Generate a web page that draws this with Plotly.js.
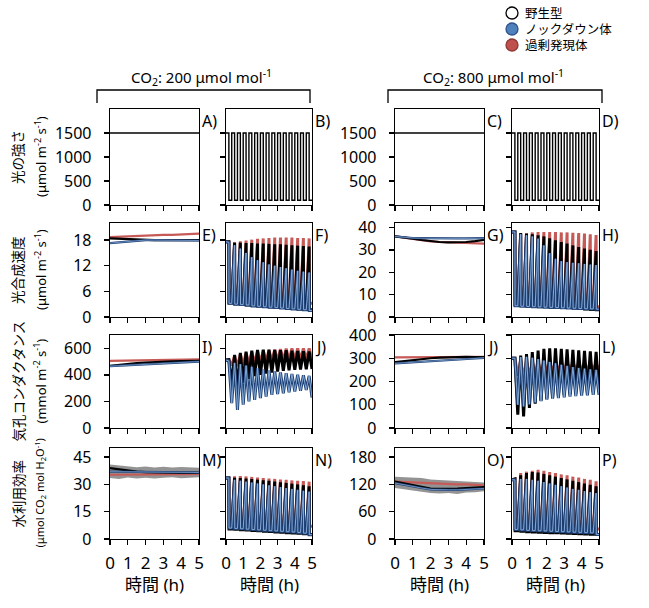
<!DOCTYPE html>
<html>
<head>
<meta charset="utf-8">
<script src="https://cdn.plot.ly/plotly-3.0.1.min.js"></script>
<style>html,body{margin:0;padding:0;background:#fff}</style>
</head>
<body>
<div id="chart" style="width:649px;height:608px"></div>
<script>
// time (h). constant light panels sampled every 30 min,
// fluctuating light: 15 cycles of 10 min high / 10 min low
const tConst = [0, 0.5, 1, 1.5, 2, 2.5, 3, 3.5, 4, 4.5, 5];
const cycleStart = [0, 0.333, 0.667, 1, 1.333, 1.667, 2, 2.333, 2.667, 3, 3.333, 3.667, 4, 4.333, 4.667];
const highLength = 0.1667;
const dropLength = 0.01;
const lightHigh = 1500;
const lightLow = 100;
const lightConst = [1500, 1500, 1500, 1500, 1500, 1500, 1500, 1500, 1500, 1500, 1500];

// WT = 野生型, KD = ノックダウン体, OE = 過剰発現体

// E) photosynthesis, CO2 200, constant light
const eWT = [18.4, 18.3, 18.2, 18.1, 18.0, 18.0, 18.0, 18.0, 18.0, 18.0, 18.0];
const eKD = [17.3, 17.5, 17.7, 17.9, 18.0, 18.0, 18.0, 18.0, 18.0, 17.9, 17.9];
const eOE = [18.7, 18.8, 18.9, 18.9, 19.0, 19.1, 19.2, 19.2, 19.3, 19.4, 19.5];
// G) photosynthesis, CO2 800, constant light
const gWT = [36.0, 35.6, 35.0, 34.4, 33.9, 33.5, 33.3, 33.3, 33.5, 33.9, 34.5];
const gKD = [36.0, 35.6, 35.3, 35.2, 35.1, 35.1, 35.1, 35.1, 35.1, 35.1, 35.2];
const gOE = [36.0, 35.4, 34.8, 34.2, 33.8, 33.5, 33.3, 33.1, 33.0, 32.9, 32.8];
// I) stomatal conductance, CO2 200, constant light
const iWT = [467, 475, 482, 488, 493, 497, 500, 502, 503, 504, 505];
const iKD = [465, 468, 472, 476, 480, 484, 488, 491, 494, 497, 500];
const iOE = [505, 506, 507, 508, 509, 510, 511, 512, 513, 515, 517];
// K) stomatal conductance, CO2 800, constant light
const kWT = [283, 288, 292, 296, 300, 303, 305, 306, 306, 305, 305];
const kKD = [278, 280, 282, 284, 286, 288, 290, 293, 296, 299, 302];
const kOE = [304, 304, 305, 305, 305, 306, 306, 306, 306, 306, 306];
// M) water use efficiency, CO2 200, constant light
const mWT = [39.0, 38.2, 37.5, 37.0, 36.7, 36.5, 36.4, 36.3, 36.3, 36.3, 36.3];
const mKD = [37.0, 37.0, 37.0, 36.9, 36.9, 36.8, 36.8, 36.7, 36.7, 36.6, 36.5];
const mOE = [35.3, 35.3, 35.4, 35.4, 35.5, 35.5, 35.5, 35.6, 35.6, 35.7, 35.8];
const mBandLo = [33.5, 33.0, 33.8, 33.3, 33.7, 33.2, 33.6, 33.9, 33.4, 33.6, 33.9];
const mBandHi = [41.0, 40.5, 40.0, 39.4, 39.8, 39.3, 39.7, 39.3, 39.6, 39.4, 39.2];
// O) water use efficiency, CO2 800, constant light
const oWT = [126, 122, 118, 114, 111, 110, 110, 111, 112, 113, 114];
const oKD = [123, 119, 115, 112, 109, 108, 108, 108, 109, 110, 111];
const oOE = [126, 125, 124, 123, 122, 122, 121, 120, 120, 119, 118];
const oBandLo = [112, 109, 106, 103, 101, 100, 101, 99, 102, 103, 105];
const oBandHi = [137, 136, 134, 134, 131, 130, 129, 128, 127, 126, 124];

// F) photosynthesis, CO2 200, fluctuating light (value at end of each high / low step)
const fInit = 17.6;
const fPeakWT = [17.6, 17.4, 17.4, 17.3, 17.3, 17.2, 17.2, 17.1, 17.0, 17.0, 16.9, 16.8, 16.7, 16.6, 16.5];
const fPeakKD = [17.5, 16.8, 16.0, 15.0, 14.0, 13.3, 12.8, 12.3, 12.0, 11.7, 11.4, 11.1, 10.8, 10.6, 10.4];
const fPeakOE = [17.6, 17.5, 17.7, 17.9, 18.1, 18.3, 18.4, 18.5, 18.6, 18.6, 18.6, 18.6, 18.5, 18.5, 18.4];
const fTroughWT = [3.3, 3.1, 3.0, 2.8, 2.7, 2.6, 2.5, 2.4, 2.3, 2.2, 2.1, 2.0, 1.9, 1.8, 1.7];
const fTroughKD = [3.2, 3.0, 2.9, 2.8, 2.6, 2.5, 2.4, 2.3, 2.2, 2.1, 2.0, 1.9, 1.8, 1.7, 1.5];
const fTroughOE = [3.5, 3.4, 3.3, 3.2, 3.1, 3.0, 3.0, 2.9, 2.8, 2.8, 2.7, 2.7, 2.6, 2.6, 3.2];
// H) photosynthesis, CO2 800, fluctuating light
const hInit = 38;
const hPeakWT = [38, 37.5, 37.2, 37.0, 36.5, 36.0, 35.2, 34.3, 33.5, 32.8, 32.0, 31.3, 30.6, 30.0, 29.5];
const hPeakKD = [38, 37.0, 36.5, 36.0, 35.0, 32.0, 28.5, 26.0, 25.0, 24.5, 24.2, 24.0, 23.7, 23.4, 23.2];
const hPeakOE = [38, 37.2, 37.5, 37.8, 38.0, 38.0, 38.0, 38.0, 37.8, 37.8, 37.6, 37.5, 37.3, 37.0, 36.6];
const hTroughWT = [5.5, 5.3, 5.1, 5.0, 4.9, 4.8, 4.6, 4.5, 4.3, 4.2, 4.0, 3.8, 3.6, 3.4, 3.2];
const hTroughKD = [5.0, 4.8, 4.7, 4.6, 4.5, 4.4, 4.3, 4.2, 4.1, 4.0, 3.9, 3.8, 3.7, 3.6, 3.5];
const hTroughOE = [5.5, 5.4, 5.3, 5.2, 5.2, 5.1, 5.0, 5.0, 4.9, 4.9, 4.8, 4.8, 4.7, 4.7, 4.6];
// J) stomatal conductance, CO2 200, fluctuating light
const jInit = 512;
const jPeakWT = [515, 550, 565, 575, 582, 588, 590, 590, 588, 585, 585, 582, 580, 578, 575];
const jPeakKD = [505, 490, 480, 470, 460, 450, 440, 432, 425, 418, 412, 406, 400, 396, 392];
const jPeakOE = [515, 540, 555, 565, 572, 578, 582, 586, 590, 594, 598, 600, 600, 600, 600];
const jTroughWT = [330, 300, 340, 370, 390, 400, 410, 418, 425, 430, 435, 438, 440, 442, 445];
const jTroughKD = [187, 137, 175, 200, 212, 225, 237, 250, 255, 262, 268, 275, 280, 287, 230];
const jTroughOE = [470, 465, 475, 485, 490, 495, 500, 503, 506, 508, 510, 512, 514, 515, 515];
// L) stomatal conductance, CO2 800, fluctuating light
const lInit = 300;
const lPeakWT = [300, 312, 318, 326, 333, 340, 343, 343, 341, 338, 336, 334, 332, 330, 328];
const lPeakKD = [300, 305, 306, 302, 296, 290, 284, 278, 272, 267, 262, 258, 255, 252, 250];
const lPeakOE = [300, 292, 288, 287, 287, 287, 286, 286, 285, 285, 284, 283, 282, 281, 280];
const lTroughWT = [57, 50, 86, 105, 118, 126, 132, 137, 141, 145, 148, 150, 152, 154, 156];
const lTroughKD = [100, 93, 102, 110, 116, 122, 126, 129, 132, 135, 137, 139, 141, 143, 143];
const lTroughOE = [225, 215, 222, 228, 233, 237, 240, 242, 244, 246, 247, 248, 249, 250, 250];
// N) water use efficiency, CO2 200, fluctuating light
const nInit = 33.5;
const nPeakWT = [33.5, 33.6, 33.5, 33.2, 32.9, 32.6, 32.3, 32.0, 31.6, 31.2, 30.8, 30.4, 30.0, 29.5, 29.0];
const nPeakKD = [33.5, 32.5, 32.0, 31.5, 31.0, 30.5, 30.0, 29.5, 29.0, 28.5, 28.0, 27.5, 27.0, 26.5, 26.0];
const nPeakOE = [33.5, 34.5, 34.6, 34.4, 34.1, 33.8, 33.5, 33.2, 33.0, 32.7, 32.5, 32.2, 32.0, 31.8, 31.5];
const nTroughWT = [5.5, 5.3, 5.1, 4.9, 4.7, 4.5, 4.3, 4.1, 3.9, 3.7, 3.5, 3.3, 3.1, 2.9, 2.5];
const nTroughKD = [6.0, 5.8, 5.6, 5.4, 5.2, 5.0, 4.8, 4.6, 4.4, 4.2, 4.0, 3.8, 3.6, 3.2, 2.4];
const nTroughOE = [6.5, 6.3, 6.1, 5.9, 5.7, 5.5, 5.3, 5.1, 4.9, 4.7, 4.5, 4.3, 4.1, 3.9, 7.0];
// P) water use efficiency, CO2 800, fluctuating light
const pInit = 130;
const pPeakWT = [132, 140, 145, 147, 146, 143, 140, 137, 134, 131, 128, 125, 122, 119, 116];
const pPeakKD = [130, 132, 132, 130, 128, 125, 122, 119, 116, 113, 110, 108, 105, 103, 101];
const pPeakOE = [132, 145, 148, 150, 152, 150, 147, 145, 142, 140, 137, 135, 132, 130, 127];
const pTroughWT = [18, 17, 16, 15.5, 15, 14.5, 14, 13.5, 13, 12.5, 12, 11.5, 11, 10.5, 10];
const pTroughKD = [21, 20, 19, 18.5, 18, 17.5, 17, 16.5, 16, 15.5, 15, 14.5, 14, 13.5, 10];
const pTroughOE = [23, 22, 21, 20.5, 20, 19.5, 19, 18.5, 18, 17.5, 17, 16.5, 16, 15.5, 22];

// axis ranges / ticks per row, [CO2 200, CO2 800]
const rowRanges = [[[0, 2000], [0, 2000]], [[0, 22], [0, 42]], [[0, 700], [0, 400]], [[0, 50], [0, 200]]];
const rowTicks = [
    [[0, 500, 1000, 1500], [0, 500, 1000, 1500]],
    [[0, 6, 12, 18], [0, 10, 20, 30, 40]],
    [[0, 200, 400, 600], [0, 100, 200, 300, 400]],
    [[0, 15, 30, 45], [0, 60, 120, 180]]
];
const panelLetters = ['A)', 'B)', 'C)', 'D)', 'E)', 'F)', 'G)', 'H)', 'I)', 'J)', 'J)', 'L)', 'M)', 'N)', 'O)', 'P)'];
const rowTitles = ['光の強さ', '光合成速度', '気孔コンダクタンス', '水利用効率'];
const rowUnits = ['(μmol m<sup>-2</sup> s<sup>-1</sup>)', '(μmol m<sup>-2</sup> s<sup>-1</sup>)',
    '(mmol m<sup>-2</sup> s<sup>-1</sup>)', '(μmol CO<sub>2</sub> mol H<sub>2</sub>O<sup>-1</sup>)'];
const legendNames = ['野生型', 'ノックダウン体', '過剰発現体'];

const W = 649, H = 608;
const fx = px => px / W;
const fy = py => 1 - py / H;
const FONT = '"Noto Sans", "Noto Sans CJK JP", sans-serif';
const RED = '#c65a57', BLACK = '#000000', BLUE = '#1f4175', BLUE_IN = '#86abd9';
const colPx = [[110, 199], [226, 312], [395, 484], [512, 599]];
const rowPx = [[109, 205], [223, 317], [335, 428], [448, 539]];

function inductionPath(init, peaks, troughs) {
    // A and WUE: build up in the high step, drop at once in the low step
    let x = [0], y = [init];
    for (let k = 0; k < cycleStart.length; k++) {
        let t = cycleStart[k];
        if (k > 0) { x.push(t); y.push(troughs[k - 1]); }
        x.push(t + highLength); y.push(peaks[k]);
        x.push(t + highLength + dropLength); y.push(troughs[k]);
    }
    x.push(5); y.push(troughs[troughs.length - 1]);
    return {x, y};
}

function stomataPath(init, peaks, troughs) {
    // gs opens through the high step and closes through the low step
    let x = [0], y = [init];
    for (let k = 0; k < cycleStart.length; k++) {
        let t = cycleStart[k];
        x.push(t + highLength); y.push(peaks[k]);
        x.push(Math.min(t + 2 * highLength, 5)); y.push(troughs[k]);
    }
    return {x, y};
}

function lightPath() {
    let x = [], y = [];
    for (let k = 0; k < cycleStart.length; k++) {
        x.push(cycleStart[k]); y.push(lightHigh);
        x.push(cycleStart[k] + highLength); y.push(lightLow);
    }
    x.push(5); y.push(lightLow);
    return {x, y};
}

let data = [];
function axisId(n) { return n > 1 ? String(n) : ''; }
function addLine(n, xy, color, width, extra) {
    data.push({
        x: xy.x, y: xy.y, xaxis: 'x' + axisId(n), yaxis: 'y' + axisId(n),
        type: 'scatter', mode: 'lines', line: {color: color, width: width},
        hoverinfo: 'skip', showlegend: false, ...extra
    });
}
function addSeries(n, wt, kd, oe, width) {
    addLine(n, oe, RED, width);
    addLine(n, wt, BLACK, width);
    addLine(n, kd, BLUE, width);
    addLine(n, kd, BLUE_IN, width * 0.33);
}
function addBand(n, lo, hi) {
    addLine(n, {x: tConst, y: lo}, 'rgba(0,0,0,0)', 0);
    addLine(n, {x: tConst, y: hi}, 'rgba(0,0,0,0)', 0, {fill: 'tonexty', fillcolor: 'rgba(120,120,120,0.8)'});
}
const c = (y) => ({x: tConst, y: y});

// row 1: light
addLine(1, c(lightConst), BLACK, 1.6);
addLine(2, lightPath(), BLACK, 1.4, {line: {color: BLACK, width: 1.4, shape: 'hv'}});
addLine(3, c(lightConst), BLACK, 1.6);
addLine(4, lightPath(), BLACK, 1.4, {line: {color: BLACK, width: 1.4, shape: 'hv'}});
// row 2: photosynthesis
addSeries(5, c(eWT), c(eKD), c(eOE), 2.2);
addSeries(6, inductionPath(fInit, fPeakWT, fTroughWT), inductionPath(fInit, fPeakKD, fTroughKD), inductionPath(fInit, fPeakOE, fTroughOE), 3);
addSeries(7, c(gWT), c(gKD), c(gOE), 2.2);
addSeries(8, inductionPath(hInit, hPeakWT, hTroughWT), inductionPath(hInit, hPeakKD, hTroughKD), inductionPath(hInit, hPeakOE, hTroughOE), 3);
// row 3: stomatal conductance
addSeries(9, c(iWT), c(iKD), c(iOE), 2.2);
addSeries(10, stomataPath(jInit, jPeakWT, jTroughWT), stomataPath(jInit, jPeakKD, jTroughKD), stomataPath(jInit, jPeakOE, jTroughOE), 3);
addSeries(11, c(kWT), c(kKD), c(kOE), 2.2);
addSeries(12, stomataPath(lInit, lPeakWT, lTroughWT), stomataPath(lInit, lPeakKD, lTroughKD), stomataPath(lInit, lPeakOE, lTroughOE), 3);
// row 4: water use efficiency
addBand(13, mBandLo, mBandHi);
addSeries(13, c(mWT), c(mKD), c(mOE), 2.2);
addSeries(14, inductionPath(nInit, nPeakWT, nTroughWT), inductionPath(nInit, nPeakKD, nTroughKD), inductionPath(nInit, nPeakOE, nTroughOE), 3);
addBand(15, oBandLo, oBandHi);
addSeries(15, c(oWT), c(oKD), c(oOE), 2.2);
addSeries(16, inductionPath(pInit, pPeakWT, pTroughWT), inductionPath(pInit, pPeakKD, pTroughKD), inductionPath(pInit, pPeakOE, pTroughOE), 3);

let layout = {
    width: W, height: H, autosize: false,
    margin: {l: 0, r: 0, t: 0, b: 0},
    paper_bgcolor: '#fff', plot_bgcolor: '#fff',
    font: {family: FONT, color: '#000', size: 16},
    showlegend: false,
    annotations: [],
    shapes: []
};

for (let r = 0; r < 4; r++) {
    for (let col = 0; col < 4; col++) {
        let n = r * 4 + col + 1;
        let co2 = col < 2 ? 0 : 1;
        let common = {
            showline: true, linecolor: '#000', linewidth: 1.3, mirror: true,
            ticks: 'outside', ticklen: 5, tickwidth: 1.3, tickcolor: '#000',
            showgrid: false, zeroline: false, fixedrange: true
        };
        layout['xaxis' + axisId(n)] = {
            ...common,
            domain: [fx(colPx[col][0]), fx(colPx[col][1])],
            anchor: 'y' + axisId(n),
            range: [0, 5], tickvals: [0, 1, 2, 3, 4, 5],
            tickfont: {family: FONT, size: 17, color: '#000'},
            showticklabels: r === 3, ticklabelstandoff: 3
        };
        layout['yaxis' + axisId(n)] = {
            ...common,
            domain: [fy(rowPx[r][1]), fy(rowPx[r][0])],
            anchor: 'x' + axisId(n),
            range: rowRanges[r][co2], tickvals: rowTicks[r][co2],
            tickfont: {family: FONT, size: 16, color: '#000'},
            showticklabels: col === 0 || col === 2, ticklabelstandoff: 9
        };
        layout.annotations.push({
            xref: 'paper', yref: 'paper', x: fx(colPx[col][1] + 1), y: fy(rowPx[r][0] + 12),
            xanchor: 'left', yanchor: 'middle', text: panelLetters[n - 1], showarrow: false,
            font: {family: FONT, size: 16}
        });
    }
    let mid = (rowPx[r][0] + rowPx[r][1]) / 2;
    layout.annotations.push({
        xref: 'paper', yref: 'paper', x: fx(18), y: fy(mid), xanchor: 'center', yanchor: 'middle',
        text: rowTitles[r], textangle: -90, showarrow: false, font: {family: FONT, size: 13.5}
    });
    layout.annotations.push({
        xref: 'paper', yref: 'paper', x: fx(40), y: fy(mid), xanchor: 'center', yanchor: 'middle',
        text: rowUnits[r], textangle: -90, showarrow: false, font: {family: FONT, size: r === 3 ? 11 : 13}
    });
}

// time axis titles
for (let col = 0; col < 4; col++) {
    layout.annotations.push({
        xref: 'paper', yref: 'paper', x: fx((colPx[col][0] + colPx[col][1]) / 2), y: fy(584),
        xanchor: 'center', yanchor: 'middle', text: '時間 (h)', showarrow: false,
        font: {family: FONT, size: 17}
    });
}

// CO2 headers with brackets
const headers = [['CO<sub>2</sub>: 200 μmol mol<sup>-1</sup>', 97, 310], ['CO<sub>2</sub>: 800 μmol mol<sup>-1</sup>', 388, 602]];
headers.forEach(([text, x0, x1]) => {
    layout.annotations.push({
        xref: 'paper', yref: 'paper', x: fx((x0 + x1) / 2 - 2), y: fy(77), xanchor: 'center', yanchor: 'middle',
        text: text, showarrow: false, font: {family: FONT, size: 15}
    });
    layout.shapes.push({
        type: 'path', xref: 'paper', yref: 'paper',
        path: `M ${fx(x0)},${fy(103)} L ${fx(x0)},${fy(90)} L ${fx(x1)},${fy(90)} L ${fx(x1)},${fy(103)}`,
        line: {color: '#000', width: 1.3}
    });
});

// legend
const legendFill = ['#ffffff', '#4f81bd', '#c0504d'];
const legendEdge = ['#000000', '#2f528f', '#8c3836'];
legendNames.forEach((name, i) => {
    let cy = 13 + i * 16;
    layout.shapes.push({
        type: 'circle', xref: 'paper', yref: 'paper',
        x0: fx(506), x1: fx(518), y0: fy(cy + 6), y1: fy(cy - 6),
        fillcolor: legendFill[i], line: {color: legendEdge[i], width: 1.3}
    });
    layout.annotations.push({
        xref: 'paper', yref: 'paper', x: fx(523), y: fy(cy), xanchor: 'left', yanchor: 'middle',
        text: name, showarrow: false, font: {family: FONT, size: 12.5}
    });
});

Plotly.newPlot('chart', data, layout, {staticPlot: true, displayModeBar: false});
</script>
</body>
</html>
